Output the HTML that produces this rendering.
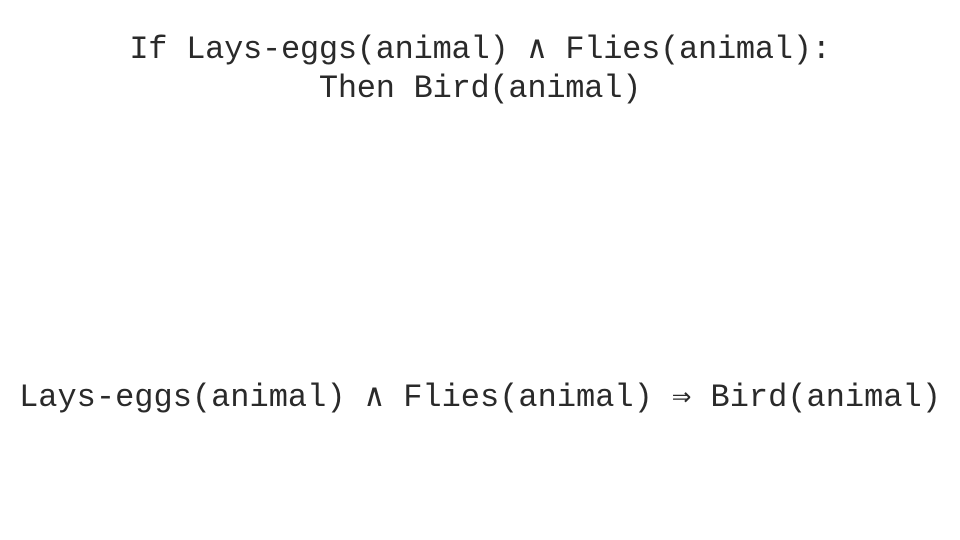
<!DOCTYPE html>
<html><head><meta charset="utf-8"><style>
body{margin:0;width:960px;height:540px;background:#fff;position:relative;overflow:hidden}
.t{position:absolute;left:0;width:960px;text-align:center;font-family:"Liberation Mono","DejaVu Sans Mono",monospace;font-size:32px;line-height:32px;color:#2a2a2a;white-space:pre}
</style></head><body>
<div class="t" style="top:34px;letter-spacing:-0.25px">If Lays-eggs(animal) ∧ Flies(animal):</div>
<div class="t" style="top:73px;letter-spacing:-0.25px">Then Bird(animal)</div>
<div class="t" style="top:382px">Lays-eggs(animal) ∧ Flies(animal) ⇒ Bird(animal)</div>
</body></html>
